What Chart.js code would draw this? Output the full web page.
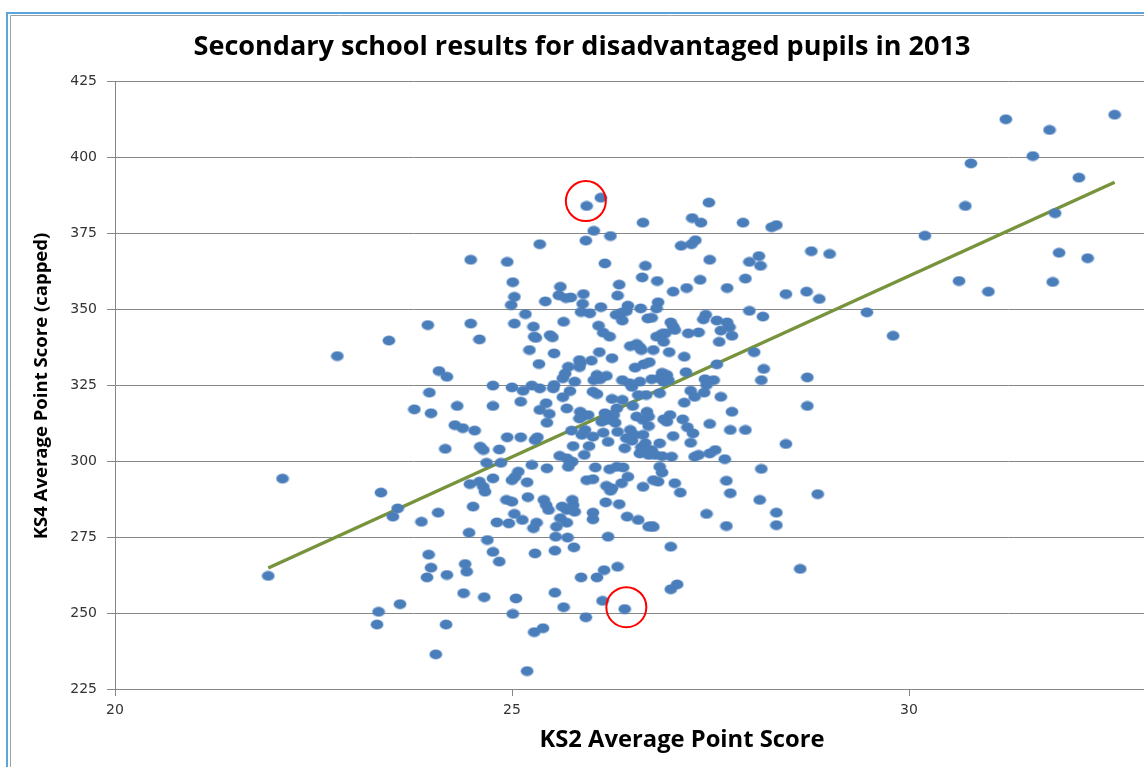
<!DOCTYPE html>
<html><head><meta charset="utf-8">
<script src="https://cdn.jsdelivr.net/npm/chart.js@4/dist/chart.umd.min.js"></script>
<style>html,body{margin:0;padding:0;background:#fff;overflow:hidden;width:1144px;height:767px}canvas{display:block}</style>
</head><body><canvas id="c" width="1330" height="767"></canvas>
<script>
// KS2 average point score (x) and KS4 capped average point score (y), one entry per school
const ks2 = [
23.94,23.45,22.80,24.08,24.18,23.96,23.77,23.98,24.16,22.11,23.35,23.56,23.50,23.86,24.07,23.95,23.98,23.93,24.18,21.93,
23.59,23.32,23.30,24.17,24.04,25.94,26.12,26.65,26.03,25.93,26.24,25.35,24.48,24.94,26.17,26.68,25.01,26.64,26.35,25.61,
25.03,25.59,25.68,25.74,25.90,26.33,24.99,25.42,25.89,26.12,26.46,26.62,25.87,25.98,26.31,26.38,26.44,26.39,26.71,25.17,
24.48,25.03,25.27,25.65,26.09,27.48,27.27,27.38,27.91,28.27,28.33,27.13,27.26,27.31,27.49,28.77,29.00,27.99,28.11,28.13,
26.83,27.37,27.94,27.03,27.20,27.71,28.45,28.71,28.87,26.84,26.82,26.76,27.99,28.16,27.44,27.41,27.58,27.71,27.00,27.03,
29.47,31.22,31.77,32.59,31.56,30.78,32.14,30.71,31.84,30.20,31.89,32.25,30.63,31.00,31.81,29.80,26.15,26.23,24.59,25.28,
25.30,25.48,25.51,25.22,25.53,25.34,26.10,26.26,26.49,26.57,26.61,26.63,25.85,25.86,26.00,25.71,25.67,25.64,25.85,26.07,
26.19,26.03,26.11,26.55,26.66,24.76,25.00,25.14,25.25,25.35,25.52,25.53,25.79,25.73,25.64,26.02,26.07,26.39,26.48,26.51,
26.61,26.59,26.69,26.26,26.39,25.11,24.31,24.76,25.43,25.35,25.47,25.44,25.69,25.86,25.88,25.96,25.85,26.17,26.28,26.19,
26.30,26.13,26.32,26.52,26.57,26.65,26.72,24.28,24.38,24.53,25.75,25.92,25.88,26.02,26.15,26.33,26.49,26.54,26.44,26.51,
26.65,26.68,26.63,24.94,25.11,25.29,25.32,24.60,24.64,24.84,25.77,25.97,26.21,26.42,26.61,26.72,25.91,25.60,25.69,25.73,
25.76,25.71,24.68,24.86,25.25,25.44,26.05,26.23,26.32,26.40,25.08,25.04,25.00,24.76,25.19,24.47,24.59,24.64,24.66,25.94,
26.02,26.19,26.26,26.38,26.46,26.65,24.93,25.00,25.20,25.40,25.43,25.46,25.63,25.69,25.76,25.77,25.79,25.61,25.69,25.56,
25.31,25.27,25.13,25.03,24.96,24.81,24.51,24.46,24.69,24.76,24.84,25.29,25.54,25.55,25.70,25.78,26.02,26.02,26.18,26.35,
26.24,26.45,26.59,26.72,26.21,24.41,24.43,26.33,26.16,26.07,25.87,24.39,24.65,25.05,25.54,26.14,26.42,25.65,25.01,25.93,
25.28,25.39,25.19,27.12,27.75,28.12,28.85,27.45,28.33,28.33,27.70,26.76,26.78,27.00,28.63,27.08,27.00,27.05,27.74,26.82,
26.89,26.93,26.91,27.22,27.35,27.63,27.77,27.61,26.78,26.98,27.17,28.05,26.73,27.19,27.58,28.17,28.14,28.72,26.89,26.95,
26.86,26.97,26.91,26.76,27.43,27.54,27.45,26.86,27.25,27.30,27.42,27.63,27.17,28.72,26.70,26.99,26.91,26.95,27.15,27.21,
27.28,26.72,27.49,27.77,27.75,27.94,27.03,27.25,26.76,26.86,26.80,26.89,27.01,27.30,27.35,27.49,27.56,27.68,28.45,26.86,
26.89,26.78,26.84,27.05,27.70,28.14
];
const ks4 = [
344.7,339.6,334.5,329.6,327.7,322.5,317.0,315.7,304.0,294.2,289.6,284.4,281.7,280.0,283.0,269.2,264.9,261.7,262.5,262.2,
252.9,250.4,246.2,246.2,236.4,383.9,386.6,378.4,375.7,372.5,374.0,371.3,366.2,365.5,365.0,364.2,358.8,360.4,358.0,357.3,
354.0,354.5,353.6,353.8,354.9,354.4,351.3,352.5,351.7,350.6,351.1,350.2,349.0,348.6,348.1,348.8,349.3,346.2,346.9,348.3,
345.2,345.2,344.2,345.8,344.5,385.0,379.9,378.4,378.4,376.9,377.6,370.8,371.3,372.6,366.2,369.0,368.1,365.5,367.4,364.2,
359.2,359.6,360.0,355.7,356.9,356.9,354.9,355.7,353.3,352.2,350.2,347.1,349.4,347.5,348.1,346.6,346.2,345.6,345.6,344.2,
348.9,412.4,408.9,413.9,400.3,397.9,393.2,383.9,381.5,374.1,368.5,366.7,359.2,355.7,358.9,341.2,342.2,340.9,340.0,340.9,
340.5,341.4,340.7,336.5,335.4,331.9,335.8,333.8,337.8,338.5,337.4,336.5,333.2,332.1,333.0,331.0,328.8,327.2,330.9,328.3,
328.0,326.6,326.9,330.7,331.8,324.8,324.2,323.1,324.8,323.9,323.9,325.0,326.1,323.0,321.0,322.8,322.0,326.6,325.6,324.4,
326.1,321.7,321.7,320.4,320.1,319.5,318.1,318.1,319.0,316.8,315.5,312.6,317.3,316.2,314.6,315.1,314.0,315.7,315.1,313.5,
312.6,312.9,317.3,318.1,314.6,313.5,314.6,311.8,310.8,310.0,310.0,310.2,308.6,308.0,309.3,309.6,310.2,308.6,307.5,306.7,
308.6,305.8,304.5,307.8,307.8,306.9,307.8,304.7,303.6,303.8,304.9,304.9,306.3,304.2,302.5,302.0,302.0,301.7,300.9,299.2,
299.8,298.1,299.4,299.4,298.7,297.6,297.9,297.3,298.1,297.9,296.5,294.8,293.7,294.3,293.0,292.4,293.2,291.5,289.9,293.7,
294.0,291.8,291.0,292.7,294.8,291.5,287.2,286.6,288.1,287.2,285.5,283.9,285.0,283.9,287.2,285.5,283.3,281.2,279.7,278.4,
279.7,277.9,280.6,282.6,279.5,279.8,285.0,276.4,274.0,270.1,266.9,269.6,270.5,275.1,274.8,271.6,283.0,280.8,286.4,285.8,
290.2,281.7,280.6,278.4,275.1,266.1,263.6,265.2,264.1,261.7,261.7,256.5,255.2,254.8,256.7,254.0,251.3,251.9,249.7,248.6,
243.7,245.0,230.9,289.6,289.4,287.2,289.1,282.6,283.0,278.9,278.6,278.6,278.3,271.8,264.5,259.4,257.8,343.1,344.0,340.9,
341.8,342.0,339.2,342.0,342.3,342.9,341.2,339.2,336.5,335.8,334.3,335.8,332.5,329.2,331.8,330.3,326.6,327.5,329.0,328.3,
327.2,326.6,326.1,326.9,326.9,326.6,325.0,322.3,323.1,321.1,322.5,321.1,319.2,318.1,316.2,315.1,313.7,312.9,313.7,311.1,
309.1,311.5,312.2,316.2,310.2,310.2,308.2,306.0,303.6,305.8,302.0,301.6,301.4,301.4,302.0,302.5,303.6,300.6,305.6,298.1,
296.2,293.7,293.2,292.7,293.5,297.4
];
// Linear trend line end points
const trendX = [21.93, 32.59];
const trendY = [264.8, 391.7];
// Highlighted schools (red rings)
const circleX = [25.93, 26.44];
const circleY = [385.5, 251.9];
// Axis ticks
const xTicks = [20, 25, 30, 35];
const yTicks = [225, 250, 275, 300, 325, 350, 375, 400, 425];
const chartTitle = 'Secondary school results for disadvantaged pupils in 2013';
const xTitle = 'KS2 Average Point Score';
const yTitle = 'KS4 Average Point Score (capped)';

const dot = document.createElement('canvas');
dot.width = 14; dot.height = 11;
(function(){
  const d = dot.getContext('2d');
  d.fillStyle = 'rgba(79,129,189,0.35)'; d.beginPath(); d.ellipse(7, 5.5, 6.8, 5.3, 0, 0, Math.PI*2); d.fill();
  d.fillStyle = '#4A7EBB'; d.beginPath(); d.ellipse(7, 5.5, 6.1, 4.7, 0, 0, Math.PI*2); d.fill();
})();

function fitText(ctx, text, weight, family, targetW){
  ctx.font = weight + ' 100px ' + family;
  const s = 100 * targetW / ctx.measureText(text).width;
  ctx.font = weight + ' ' + s.toFixed(2) + 'px ' + family;
}

const decor = {
  id: 'decor',
  beforeDraw(chart){
    const ctx = chart.ctx; ctx.save();
    ctx.fillStyle = '#fff'; ctx.fillRect(0, 0, chart.width, chart.height);
    ctx.strokeStyle = '#5AA5DE'; ctx.lineWidth = 2;
    ctx.beginPath(); ctx.moveTo(7, chart.height); ctx.lineTo(7, 13); ctx.lineTo(chart.width, 13); ctx.stroke();
    ctx.strokeStyle = '#a0a0a0'; ctx.lineWidth = 1;
    ctx.beginPath(); ctx.moveTo(10.5, chart.height); ctx.lineTo(10.5, 15.5); ctx.lineTo(chart.width, 15.5); ctx.stroke();
    ctx.restore();
  },
  afterDatasetsDraw(chart){
    const ctx = chart.ctx, xs = chart.scales.x, ys = chart.scales.y;
    ctx.save(); ctx.strokeStyle = '#FF0000'; ctx.lineWidth = 2;
    circleX.forEach((cx, i) => {
      ctx.beginPath(); ctx.arc(xs.getPixelForValue(cx), ys.getPixelForValue(circleY[i]), 20, 0, Math.PI*2); ctx.stroke();
    });
    ctx.restore();
  },
  afterDraw(chart){
    const ctx = chart.ctx; ctx.save();
    ctx.fillStyle = '#000'; ctx.textAlign = 'center'; ctx.textBaseline = 'middle';
    fitText(ctx, chartTitle, 'bold', '"Open Sans"', 777);
    ctx.fillText(chartTitle, 582, 47);
    fitText(ctx, xTitle, 'bold', '"Open Sans"', 285);
    ctx.fillText(xTitle, 682, 740);
    ctx.translate(42, 386); ctx.rotate(-Math.PI/2);
    fitText(ctx, yTitle, 'bold', '"Open Sans"', 307);
    ctx.fillText(yTitle, 0, 0);
    ctx.restore();
  }
};

new Chart(document.getElementById('c'), {
  type: 'scatter',
  data: {
    datasets: [
      { type: 'scatter', data: ks2.map((x, i) => ({x: x, y: ks4[i]})), pointStyle: dot, pointRadius: 6, order: 1 },
      { type: 'line', data: trendX.map((x, i) => ({x: x, y: trendY[i]})), borderColor: '#77933C', borderWidth: 3.5, pointRadius: 0, fill: false, tension: 0, order: 2 }
    ]
  },
  options: {
    responsive: false, animation: false, devicePixelRatio: 1,
    layout: { padding: { top: 81, left: 0, right: 24, bottom: 0 } },
    plugins: { legend: { display: false }, tooltip: { enabled: false }, title: { display: false } },
    scales: {
      x: {
        type: 'linear', min: 20, max: 35,
        afterBuildTicks(s){ s.ticks = xTicks.map(v => ({value: v})); },
        afterFit(s){ s.height = 78; },
        grid: { drawOnChartArea: false, drawTicks: true, tickLength: 7, color: '#868686', lineWidth: 1 },
        border: { display: true, color: '#868686', width: 1 },
        ticks: { font: { family: '"DejaVu Sans"', size: 14 }, color: '#333', padding: 6, maxRotation: 0 }
      },
      y: {
        type: 'linear', min: 225, max: 425,
        afterBuildTicks(s){ s.ticks = yTicks.map(v => ({value: v})); },
        afterFit(s){ s.width = 115; },
        grid: { color: '#868686', lineWidth: 1, tickLength: 8 },
        border: { display: true, color: '#868686', width: 1 },
        ticks: { font: { family: '"DejaVu Sans"', size: 14 }, color: '#333', padding: 10 }
      }
    }
  },
  plugins: [decor]
});
</script>
</body></html>
